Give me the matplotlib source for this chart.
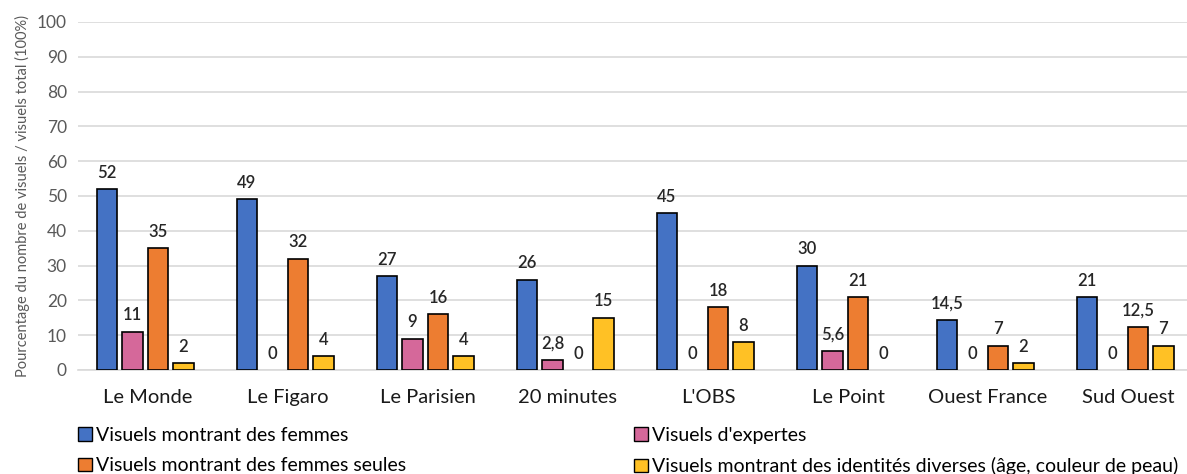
import matplotlib
matplotlib.use("Agg")
import matplotlib.pyplot as plt
import numpy as np
from matplotlib.patches import Patch

plt.rcParams['font.family'] = ['Lato', 'DejaVu Sans']

categories = ["Le Monde", "Le Figaro", "Le Parisien", "20 minutes", "L'OBS",
              "Le Point", "Ouest France", "Sud Ouest"]
series_names = ["Visuels montrant des femmes", "Visuels d'expertes",
                "Visuels montrant des femmes seules",
                "Visuels montrant des identités diverses (âge, couleur de peau)"]
femmes = [52, 49, 27, 26, 45, 30, 14.5, 21]
expertes = [11, 0, 9, 2.8, 0, 5.6, 0, 0]
seules = [35, 32, 16, 0, 18, 21, 7, 12.5]
diverses = [2, 4, 4, 15, 8, 0, 2, 7]
colors = ["#4472C4", "#D5689A", "#ED7D31", "#FFC125"]
yticks = [0, 10, 20, 30, 40, 50, 60, 70, 80, 90, 100]

fig = plt.figure(figsize=(11.87, 4.74), dpi=100)
ax = fig.add_axes([78/1187, 104/474, 1120/1187, 348/474])

x = np.arange(len(categories))
width = 0.145
step = 0.182
data = [femmes, expertes, seules, diverses]
for i, (vals, c) in enumerate(zip(data, colors)):
    pos = x + (i - 1.5) * step - 0.02
    lws = [1.2 if v > 0 else 0 for v in vals]
    ax.bar(pos, vals, width, color=c, edgecolor="black", linewidth=lws, zorder=3)
    for p, v in zip(pos, vals):
        s = ("%g" % v).replace(".", ",")
        ax.annotate(s, (p, v), xytext=(0, 6), textcoords="offset points",
                    ha="center", va="bottom", fontsize=12, fontweight="semibold",
                    color="#262626")

ax.set_xlim(-0.5, len(categories) - 0.5)
ax.set_ylim(0, 100)
ax.set_yticks(yticks)
ax.set_yticklabels([str(t) for t in yticks], fontsize=12.5, color="#595959")
ax.set_xticks(x)
ax.set_xticklabels(categories, fontsize=14.5, color="#1a1a1a")
ax.tick_params(axis="both", length=0)
ax.tick_params(axis="x", pad=14)
ax.tick_params(axis="y", pad=8)
ax.grid(axis="y", color="#D9D9D9", linewidth=1.2, zorder=0)
for s in ["top", "right", "left"]:
    ax.spines[s].set_visible(False)
ax.spines["bottom"].set_color("#D9D9D9")
ax.spines["bottom"].set_linewidth(1.2)
ax.set_ylabel("Pourcentage du nombre de visuels / visuels total (100%)",
              fontsize=10.5, color="#595959", labelpad=5)

handles = [Patch(facecolor=c, edgecolor="black", linewidth=1) for c in colors]
kw = dict(frameon=False, fontsize=14, handlelength=0.7, handleheight=0.7,
          handletextpad=0.25, labelspacing=0.68, loc="upper left", borderaxespad=0,
          borderpad=0)
leg1 = fig.legend([handles[0], handles[2]], [series_names[0], series_names[2]],
                  bbox_to_anchor=(78/1187, 1 - 427/474), **kw)
leg2 = fig.legend([handles[1], handles[3]], [series_names[1], series_names[3]],
                  bbox_to_anchor=(634/1187, 1 - 427/474), **kw)

fig.savefig("out.png", dpi=100)
